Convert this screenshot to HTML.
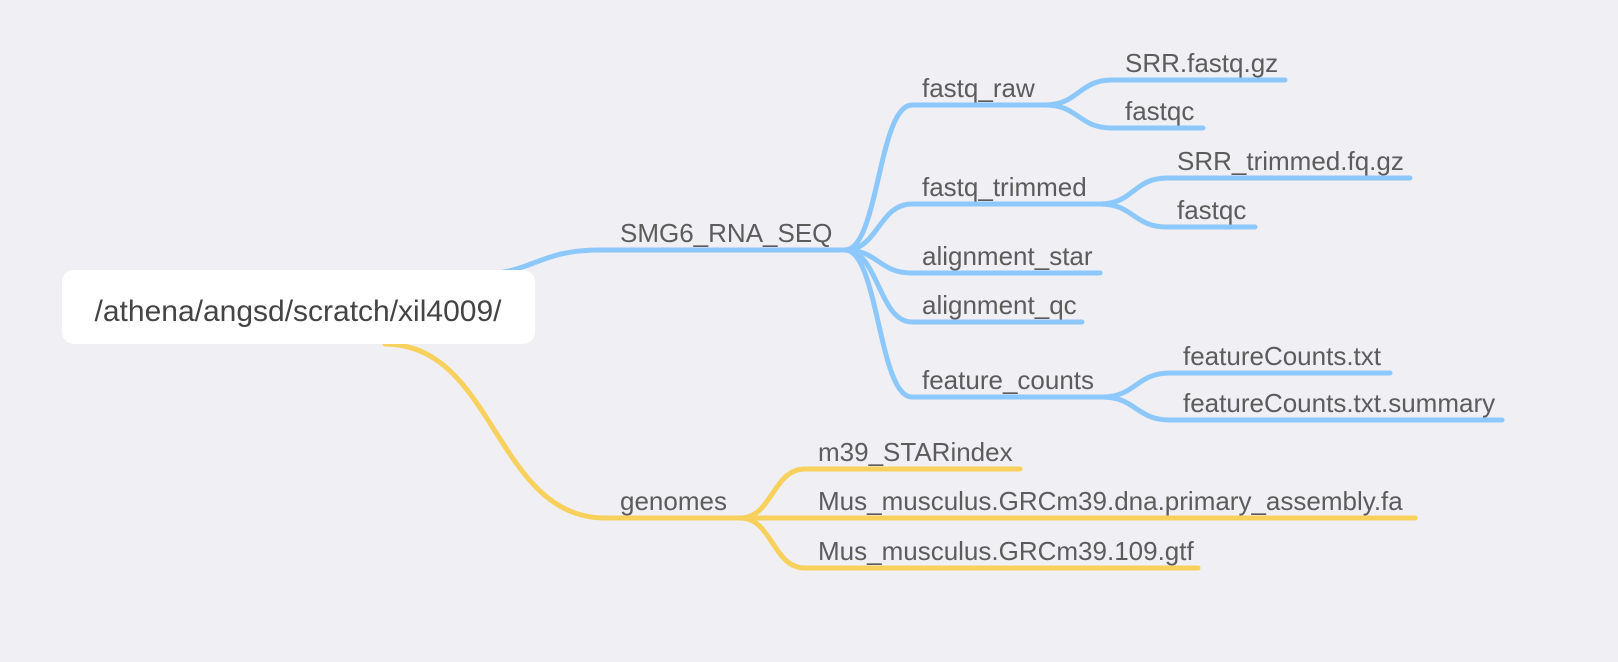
<!DOCTYPE html>
<html><head><meta charset="utf-8"><style>
html,body{margin:0;padding:0;background:#efeff4;}
svg{display:block;}
text{font-family:"Liberation Sans",sans-serif;fill:#5c5c5c;font-size:26px;}
</style></head><body>
<svg id="map" width="1618" height="662" viewBox="0 0 1618 662" xmlns="http://www.w3.org/2000/svg">
<rect width="1618" height="662" fill="#efeff4"/>
<g id="links"></g>
<g id="labels"></g>
<rect x="62" y="270" width="473" height="74" rx="12" fill="#ffffff"/>
<text x="298" y="321" text-anchor="middle" style="font-size:30px;fill:#444">/athena/angsd/scratch/xil4009/</text>
</svg>
<script>
const BLUE='#8cc8fb', YEL='#f8d05c';
// edges: [name, x1,y1, xc, x2, y2, color, label, labelX]
const nodes=[
 ['smg6-rna-seq',470,275,600,845,250,BLUE,'SMG6_RNA_SEQ',620],
 ['fastq-raw',845,250,912,1045,105,BLUE,'fastq_raw',922],
 ['fastq-trimmed',845,250,912,1100,204,BLUE,'fastq_trimmed',922],
 ['alignment-star',845,250,912,1100,273,BLUE,'alignment_star',922],
 ['alignment-qc',845,250,912,1082,322,BLUE,'alignment_qc',922],
 ['feature-counts',845,250,912,1102,397,BLUE,'feature_counts',922],
 ['srr-fastq-gz',1045,105,1112,1285,80,BLUE,'SRR.fastq.gz',1125],
 ['fastqc-raw',1045,105,1112,1203,128,BLUE,'fastqc',1125],
 ['srr-trimmed',1100,204,1167,1410,178,BLUE,'SRR_trimmed.fq.gz',1177],
 ['fastqc-trimmed',1100,204,1167,1255,227,BLUE,'fastqc',1177],
 ['featurecounts-txt',1102,397,1170,1390,373,BLUE,'featureCounts.txt',1183],
 ['featurecounts-summary',1102,397,1170,1502,420,BLUE,'featureCounts.txt.summary',1183],
 ['genomes',385,344,605,740,518,YEL,'genomes',620],
 ['m39-starindex',740,518,805,1020,469,YEL,'m39_STARindex',818],
 ['mus-dna-fa',740,518,805,1415,518,YEL,'Mus_musculus.GRCm39.dna.primary_assembly.fa',818],
 ['mus-gtf',740,518,805,1198,568,YEL,'Mus_musculus.GRCm39.109.gtf',818]
];
const ns='http://www.w3.org/2000/svg';
const L=document.getElementById('links'), T=document.getElementById('labels');
nodes.forEach(n=>{
 const [name,x1,y1,xc,x2,y2,c,lab,lx]=n;
 const p=document.createElementNS(ns,'path');
 const m=(x1+xc)/2;
 p.setAttribute('d',`M${x1} ${y1} C${m} ${y1} ${m} ${y2} ${xc} ${y2} L${x2} ${y2}`);
 p.setAttribute('fill','none');p.setAttribute('stroke',c);p.setAttribute('stroke-width','5');p.setAttribute('stroke-linecap','round');
 
 
 L.appendChild(p);
 const t=document.createElementNS(ns,'text');
 t.setAttribute('x',lx);t.setAttribute('y',y2-8);t.textContent=lab;
 
 
 T.appendChild(t);
});
</script>
</body></html>
